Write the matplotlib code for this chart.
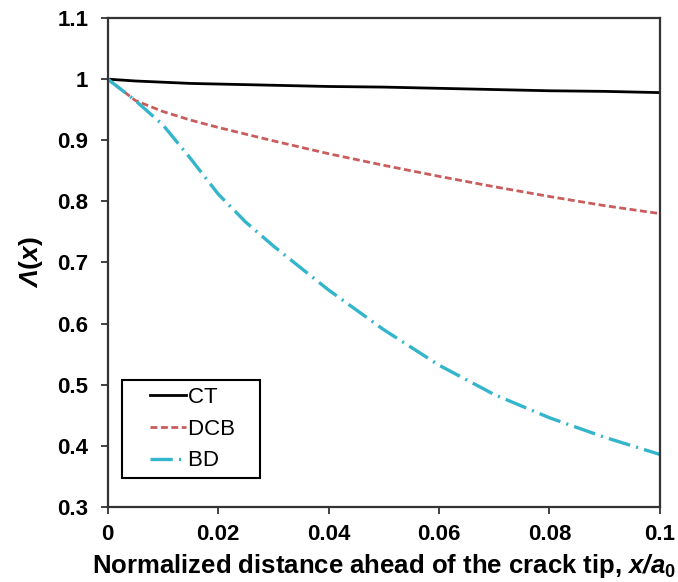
import matplotlib
matplotlib.use("Agg")
import matplotlib.pyplot as plt
from matplotlib.legend_handler import HandlerLine2D

# values
x_vals = [0, 0.005, 0.01, 0.015, 0.02, 0.025, 0.03, 0.04, 0.05, 0.06, 0.07, 0.08, 0.09, 0.1]
ct_vals = [1.0, 0.997, 0.995, 0.993, 0.992, 0.991, 0.990, 0.988, 0.987, 0.985, 0.983, 0.981, 0.980, 0.978]
dcb_vals = [1.0, 0.965, 0.947, 0.933, 0.921, 0.910, 0.899, 0.878, 0.859, 0.841, 0.824, 0.808, 0.793, 0.780]
bd_vals = [1.0, 0.965, 0.925, 0.870, 0.812, 0.766, 0.727, 0.655, 0.590, 0.532, 0.484, 0.446, 0.414, 0.386]

x_ticks = [0, 0.02, 0.04, 0.06, 0.08, 0.1]
x_ticklabels = ["0", "0.02", "0.04", "0.06", "0.08", "0.1"]
y_ticks = [0.3, 0.4, 0.5, 0.6, 0.7, 0.8, 0.9, 1.0, 1.1]
y_ticklabels = ["0.3", "0.4", "0.5", "0.6", "0.7", "0.8", "0.9", "1", "1.1"]

plt.rcParams['font.family'] = ['Liberation Sans', 'DejaVu Sans']
plt.rcParams['mathtext.fontset'] = 'custom'
plt.rcParams['mathtext.rm'] = 'Liberation Sans'
plt.rcParams['mathtext.bf'] = 'Liberation Sans:bold'
plt.rcParams['mathtext.it'] = 'Liberation Sans:italic'
plt.rcParams['mathtext.bfit'] = 'Liberation Sans:bold:italic'
plt.rcParams['lines.scale_dashes'] = False

fig = plt.figure(figsize=(6.78, 5.82), dpi=100)
ax = fig.add_axes([0.159, 0.129, 0.814, 0.840])

ax.plot(x_vals, ct_vals, color='black', lw=2.0, label='CT')
ax.plot(x_vals, dcb_vals, color='#c95c5c', lw=2.0, dashes=(5, 2.5), label='DCB')
ax.plot(x_vals, bd_vals, color='#33b5cc', lw=2.4, dashes=(16, 4.5, 1.5, 4.5), label='BD')

ax.set_xlim(0, 0.1)
ax.set_ylim(0.3, 1.1)
ax.set_xticks(x_ticks)
ax.set_xticklabels(x_ticklabels, fontweight='bold', fontsize=16)
ax.set_yticks(y_ticks)
ax.set_yticklabels(y_ticklabels, fontweight='bold', fontsize=16)
ax.tick_params(direction='out', length=5, width=1.3, color='#333333')
ax.tick_params(axis='y', pad=9)
ax.tick_params(axis='x', pad=7)

for sp in ax.spines.values():
    sp.set_linewidth(1.6)
    sp.set_color('#333333')

ax.set_xlabel(r"Normalized distance ahead of the crack tip, $\mathbfit{x/a}_\mathbf{0}$",
              fontweight='bold', fontsize=18.5, labelpad=5)
ax.set_ylabel(r"$\mathbfit{Λ}\mathbf{(}\mathbfit{x}\mathbf{)}$", fontsize=19, labelpad=9)

# xpad pushes the handle right so the box has wider side margins
leg = ax.legend(loc='lower left', bbox_to_anchor=(0.025, 0.059), borderaxespad=0,
                fontsize=16, fancybox=False, edgecolor='black', framealpha=1,
                handlelength=2.6, handletextpad=0.1, borderpad=0.3, labelspacing=0.48,
                handler_map={plt.Line2D: HandlerLine2D(xpad=1.0)})
leg.get_frame().set_linewidth(1.5)
# a little room on the right side too
for t in leg.get_texts():
    t.set_text(t.get_text() + "   ")

fig.savefig("out.png", dpi=100)
